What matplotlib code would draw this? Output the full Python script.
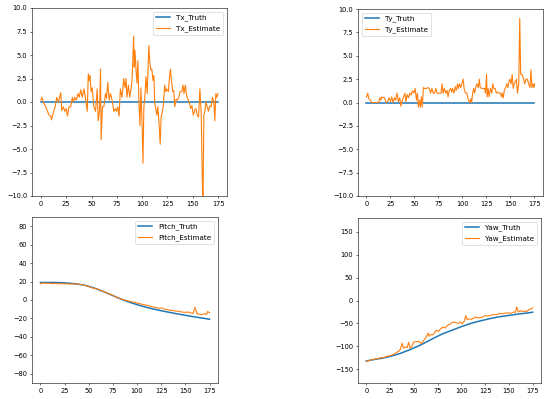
"""
Truth vs estimate of the four pose components (Tx, Ty, Pitch, Yaw)
"""

import matplotlib
matplotlib.use('Agg')
import matplotlib.pyplot as plt

# ---- Tx ----
tx_x = [0, 1, 2.3, 4.9, 6.5, 8.2, 9.8, 10.5, 12.1, 14.1, 15.7, 17.3, 19.6, 20.6, 22.2, 23.6,
        25.2, 26.2, 27.8, 29.4, 31.1, 32.1, 33.4, 35, 36.6, 37.9, 39.3, 40.9, 42.5, 44.2,
        45.8, 46.8, 47.8, 48.4, 49.7, 50.7, 52.3, 54, 55.6, 56.6, 57.9, 58.9, 59.5, 60.8,
        62.2, 63.8, 64.8, 66.1, 67.4, 68.7, 70.7, 72, 73.3, 74.6, 75.9, 77.2, 78.5, 80.1,
        81.8, 83.1, 84.1, 85, 86.4, 87.7, 89, 90, 90.9, 91.6, 92.2, 92.9, 93.9, 94.9, 95.8,
        96.8, 97.8, 98.8, 99.8, 100.8, 101.7, 102.7, 103.7, 105, 106.6, 107.6, 108.6, 109.6,
        110.6, 111.5, 112.5, 113.5, 114.5, 115.5, 116.8, 117.8, 118.7, 120, 121, 122.3,
        123.3, 124.3, 125.9, 126.9, 127.9, 128.9, 130.2, 131.2, 132.2, 133.5, 134.8, 136.1,
        137.4, 139, 140.3, 141.3, 142.6, 143.9, 145.2, 146.5, 147.9, 149.2, 150.5, 151.8,
        153.1, 154.4, 155.7, 157, 158.3, 159.3, 160, 160.9, 161.9, 162.9, 164.2, 165.5,
        166.8, 168.1, 169.4, 170.8, 171.7, 172.7, 173.7, 174.7]
tx_est = [0.2, 0.5, 0.0, -0.5, -1.0, -1.4, -1.5, -1.9, -1.2, -0.5, 0.5, 0.0, 1.0, -0.9, -0.5, -1.0,
          -0.7, -1.5, -0.5, -0.5, 0.5, 0.0, 0.5, 0.2, 0.9, 0.5, 1.3, 0.5, 1.4, 0.3,
          -1.0, 3.0, 2.3, 2.8, 1.1, 1.5, -0.5, -1.0, 1.4, -2.0, -1.0, 3.5, -4.0, -0.5,
          -0.5, 0.9, 0.4, 2.1, 0.2, 0.9, 0.0, -1.0, -0.7, -1.0, -0.5, -1.5, 1.4, 0.5,
          2.5, 1.5, 2.5, 0.5, 1.8, 0.5, 1.4, 2.3, 5.0, 7.0, 3.7, 5.5, 3.5, 2.0, 4.4,
          0.0, -2.5, 1.5, -1.8, -6.5, -0.5, 0.5, 2.7, 0.9, 6.0, 4.2, 3.4, 3.5,
          2.3, 2.8, -0.2, -0.7, -1.4, -0.5, -2.5, -4.5, -1.6, -1.0, -0.2, 1.8,
          1.1, 1.4, 1.1, 2.6, 3.5, 2.3, 1.1, 1.2, -0.5, 0.3, 0.2, 0.5,
          1.1, 1.1, 1.8, 0.9, 1.8, 0.7, 0.3, 0.0, -0.7, -0.4, -1.4, -0.9,
          -0.7, -1.4, -1.6, 1.4, -1.2, -8.0, -11.0, -1.4, -1.0, 0.0, -0.5, -1.0,
          -0.4, -0.5, 0.5, 0.0, -2.0, 0.9, 0.5, 0.9]

# ---- Ty ----
ty_x = [0, 1.4, 2.4, 4.1, 5.5, 9.3, 12.7, 14.1, 15.1, 16.1, 18.9, 20.6, 22.3, 23.7, 25.1, 26.4,
        27.8, 29.2, 30.5, 31.9, 33.3, 34.7, 36, 37.4, 38.8, 40.2, 41.2, 42.6, 43.9, 45.3,
        46.7, 48, 49.4, 50.8, 52.2, 53.2, 54.2, 55.3, 56.3, 57.3, 58.3, 59.4, 60.7, 62.5,
        64.2, 65.5, 66.9, 68.3, 69.7, 71, 72.4, 73.8, 75.2, 76.5, 77.9, 78.9, 80, 81.3,
        82.7, 84.1, 85.1, 86.5, 87.9, 88.9, 89.9, 91.3, 92.7, 93.7, 95.1, 96.1, 97.1, 98.5,
        99.5, 100.9, 101.9, 103.3, 104.7, 106.4, 107.8, 108.8, 109.8, 110.8, 111.9, 112.9,
        113.9, 115.3, 116.7, 117.7, 118.7, 120.5, 121.8, 123.2, 124.2, 125.3, 125.9, 127,
        128, 129.4, 130.7, 131.8, 132.8, 134.2, 135.6, 136.9, 138.3, 139.7, 141, 141.7,
        142.8, 143.8, 145.2, 146.5, 147.6, 148.6, 149.6, 151, 152, 153.1, 154.1, 155.5,
        156.5, 157.5, 158.9, 159.9, 160.9, 162.3, 163.7, 165.1, 166.4, 167.8, 169.2, 170.6,
        171.6, 172.6, 173.6, 174.7, 175.4]
ty_est = [0.6, 1.0, 0.4, 0.25, 0.0, 0.0, 0.0, 0.5, 0.25, 0.6, 0.5, 0.0, 0.1, 0.5, 0.1, 0.6,
          0.0, 0.5, 0.25, 1.0, 0.1, 0.5, -0.4, 0.25, 0.6, 1.0, 0.1, 0.85, 0.5, 1.0,
          0.8, 1.25, 1.0, 1.5, 0.25, 1.0, -0.5, 0.25, -0.5, 0.6, -0.5, 1.6, 1.5, 1.5,
          1.6, 1.5, 1.0, 1.5, 1.0, 1.0, 1.5, 1.0, 1.0, 1.0, 1.0, 2.0, 1.0, 1.5,
          1.0, 1.3, 0.6, 1.3, 1.5, 1.1, 1.5, 1.0, 1.7, 1.3, 2.0, 1.5, 2.0, 1.6,
          2.0, 2.5, 1.5, 1.0, 1.0, 0.25, 0.0, 0.4, 0.0, 1.0, 1.5, 1.0,
          1.6, 2.0, 1.6, 2.5, 1.6, 1.5, 1.5, 1.5, 1.0, 3.0, 0.6, 1.5,
          0.6, 1.5, 1.0, 2.0, 1.5, 1.5, 1.0, 1.1, 1.0, 1.0, 0.6, 1.0,
          0.5, 1.3, 1.6, 2.0, 1.6, 2.2, 2.5, 2.0, 3.0, 1.5, 2.0, 2.3,
          2.5, 1.0, 2.0, 9.0, 3.0, 3.0, 2.6, 2.0, 2.5, 2.5, 2.0, 1.6,
          3.5, 1.6, 2.0, 1.6, 2.0]

# ---- Pitch ----
pitch_truth_x = [0, 5, 10, 15, 20, 25, 30, 35, 40, 45, 50, 55, 60, 65, 70, 75, 80, 85, 90,
                 95, 100, 105, 110, 115, 120, 125, 130, 135, 140, 145, 150, 155, 160, 165,
                 170, 175]
pitch_truth = [19.0, 19.0, 19.0, 19.0, 18.8, 18.6, 18.2, 17.7, 17.0, 16.2, 14.8, 13.2, 11.3,
               9.2, 7.0, 4.8, 2.4, 0.3, -1.6, -3.4, -5.0, -6.6, -8.0, -9.3, -10.5, -11.6,
               -12.7, -13.7, -14.7, -15.6, -16.6, -17.5, -18.4, -19.2, -20.0, -20.8]
pitch_est_x = [0, 3, 6, 9, 12, 15, 18, 21, 24, 27, 30, 33, 36, 39, 42, 45, 48, 51, 54, 57,
               60, 63, 66, 69, 72, 75, 78, 81, 84, 87, 90, 93, 96, 99, 102, 105, 108, 111,
               114, 117, 120, 123, 126, 129, 132, 135, 138, 141, 144, 147, 150, 153, 156,
               158, 160, 162, 164, 166, 168, 170, 172, 173, 175]
pitch_est = [17.5, 18.5, 18.0, 18.2, 17.8, 18.0, 17.6, 17.8, 17.5, 17.6, 17.3, 17.5, 17.2,
             17.3, 16.8, 16.0, 15.3, 14.2, 13.0, 12.4, 11.4, 10.2, 8.8, 7.6, 6.2, 4.9, 3.4,
             2.2, 0.9, 0.0, -0.8, -1.6, -2.2, -3.0, -3.8, -4.6, -5.3, -5.8, -6.9, -7.6,
             -8.3, -9.0, -8.6, -10.2, -10.6, -11.2, -11.8, -12.0, -12.6, -13.1, -13.4,
             -13.0, -14.2, -14.5, -8.0, -14.8, -15.2, -16.0, -15.5, -14.8, -15.8, -12.5,
             -13.8]

# ---- Yaw ----
yaw_truth_x = pitch_truth_x
yaw_truth = [-132, -130, -128, -126.5, -124.5, -122, -119, -116, -112, -108, -103.5, -99,
             -94, -88.5, -83, -78, -73, -69, -65, -61, -57, -53.5, -50, -47, -44.5, -42,
             -39.5, -37.5, -35.5, -34, -32.5, -31, -29.5, -28.3, -27, -25.5]
yaw_est_x = [0, 3, 6, 9, 12, 15, 18, 21, 24, 27, 30, 32, 34, 36, 37.5, 39, 41, 43, 44.4, 46,
             48, 49.6, 52, 55, 58, 60, 61.6, 63, 65, 66, 68, 70, 72, 73.7, 76, 78, 80.6, 83,
             85, 88, 91, 94, 97, 99, 101, 103, 104.7, 106, 108, 110, 113, 115, 118, 121,
             125, 128, 131, 134, 137, 140, 143, 146, 149, 152, 155, 157, 158, 160, 162,
             164, 166.7, 169, 171, 173, 175]
yaw_est = [-133, -131, -129, -128, -127, -125, -125, -122, -121, -119, -116, -113, -111,
           -106, -93, -104, -101, -103, -91, -104, -100, -91, -90, -89, -94, -88, -84, -80,
           -71, -78, -74, -75, -69, -65, -67, -62, -58, -60, -55, -52, -47, -48, -50, -47,
           -51, -45, -33, -42, -40, -41, -39, -36, -38, -37, -33, -34, -32, -30.5, -31,
           -28, -29, -27.6, -27, -28, -25, -26, -14, -25, -22, -24, -23, -24, -20, -19,
           -16]

panels = [
    # (truth_x, truth, est_x, est, name, ylim, legend loc, axes rect)
    ([0, 175], [0, 0], tx_x, tx_est, 'Tx', (-10, 10), 'upper right',
     [32 / 550, 1 - 196 / 399, 195 / 550, 188 / 399]),
    ([0, 175], [0, 0], ty_x, ty_est, 'Ty', (-10, 10), 'upper left',
     [358 / 550, 1 - 196 / 399, 185 / 550, 187 / 399]),
    (pitch_truth_x, pitch_truth, pitch_est_x, pitch_est, 'Pitch', (-90, 90), 'upper right',
     [32 / 550, 1 - 383 / 399, 186 / 550, 166 / 399]),
    (yaw_truth_x, yaw_truth, yaw_est_x, yaw_est, 'Yaw', (-180, 180), 'upper right',
     [358 / 550, 1 - 383 / 399, 183 / 550, 165 / 399]),
]

# big figure rendered at low dpi so default sizes shrink like the reference
fig = plt.figure(figsize=(11.0, 7.98))

for truth_x, truth, est_x, est, name, ylim, loc, rect in panels:
    ax = fig.add_axes(rect)
    ax.plot(truth_x, truth, label=f'{name}_Truth', linewidth=2.2)
    ax.plot(est_x, est, label=f'{name}_Estimate', linewidth=1.6)
    ax.set_ylim(*ylim)
    ax.set_xticks([0, 25, 50, 75, 100, 125, 150, 175])
    ax.tick_params(labelsize=9.5)
    ax.legend(loc=loc, fontsize=10.5)

fig.savefig('out.png', dpi=50)
